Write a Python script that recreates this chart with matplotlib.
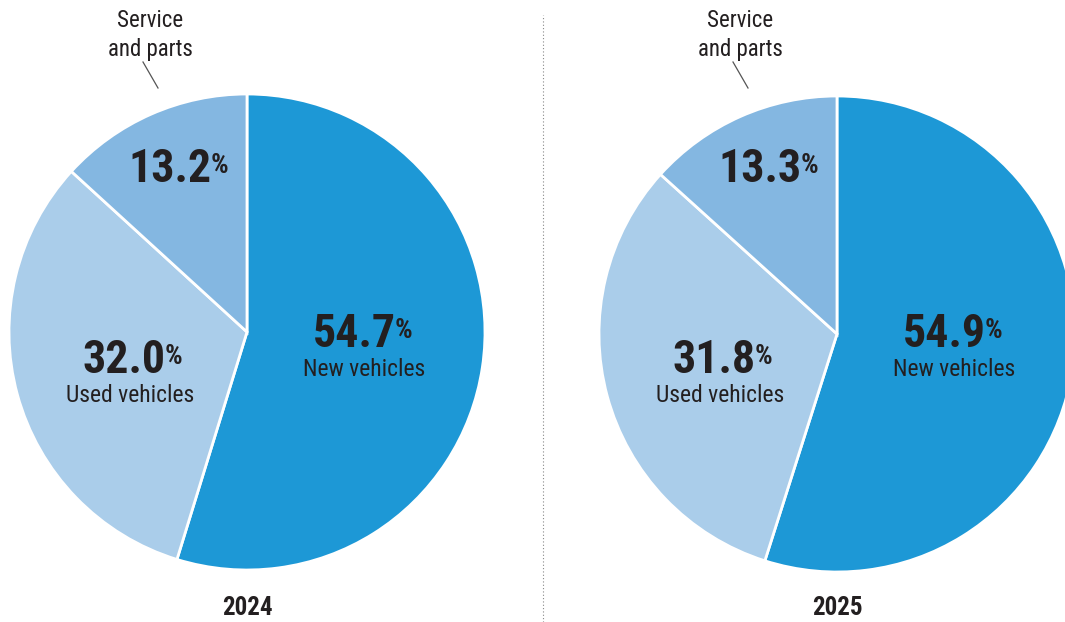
import matplotlib.pyplot as plt

plt.rcParams['font.family'] = ['Roboto Condensed', 'Roboto', 'DejaVu Sans']

years = ['2024', '2025']
segments = ['New vehicles', 'Used vehicles', 'Service\nand parts']
shares_2024 = [54.7, 32.0, 13.2]
shares_2025 = [54.9, 31.8, 13.3]
colors = ['#1d98d6', '#aacdea', '#84b7e1']
ink = '#231f20'

W, H = 1065, 622
fig = plt.figure(figsize=(W / 100, H / 100), dpi=100)
ax = fig.add_axes([0, 0, 1, 1])

# pie centres / radius in pixel coords (y up)
centres = [(247, H - 332), (837, H - 334)]
radius = 238

for shares, year, (cx, cy) in zip([shares_2024, shares_2025], years, centres):
    ax.pie(shares, colors=colors, startangle=90, counterclock=False,
           center=(cx, cy), radius=radius, frame=True,
           wedgeprops=dict(edgecolor='white', linewidth=2))

    # big numbers, % as small superscript
    num_pos = [(cx + 149, H - 334), (cx - 81, H - 360), (cx - 35, H - 169)]
    for val, (x, y) in zip(shares, num_pos):
        ax.text(x, y, f'{val:.1f}', ha='right', va='center', fontsize=33,
                fontweight='bold', color=ink)
        ax.text(x - 1, y + 17, '%', ha='left', va='top', fontsize=20,
                fontweight='bold', color=ink)

    ax.text(cx + 117, H - 370, segments[0], ha='center', va='center',
            fontsize=17, color=ink)
    ax.text(cx - 117, H - 396, segments[1], ha='center', va='center',
            fontsize=17, color=ink)
    ax.text(cx - 97, H - 35, segments[2], ha='center', va='center',
            fontsize=16.5, color=ink, linespacing=1.3)
    ax.plot([cx - 104, cx - 89], [H - 62, H - 88], color='#555555', lw=0.9)

    ax.text(cx, H - 608, year, ha='center', va='center', fontsize=18,
            fontweight='bold', color=ink)

# dotted divider
ax.plot([543, 543], [0, H - 15], color='#888888', lw=0.8, ls=(0, (1, 2)))

ax.set_xlim(0, W)
ax.set_ylim(0, H)
ax.set_aspect('auto')
ax.axis('off')

fig.savefig('out.png', dpi=100)
